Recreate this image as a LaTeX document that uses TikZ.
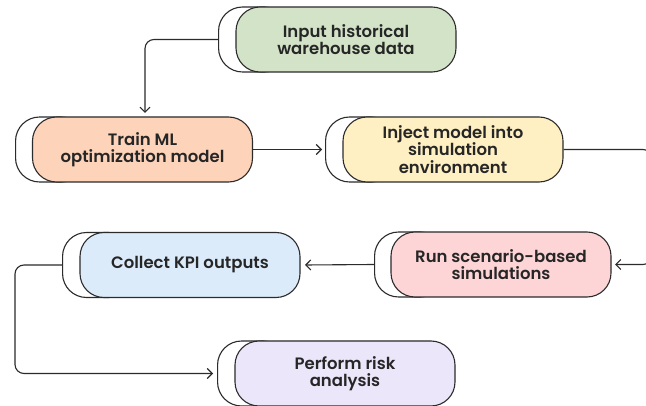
\documentclass[tikz,border=0pt]{standalone}
\usepackage{fontspec}
\setmainfont{Poppins}[UprightFont=* SemiBold]
\usetikzlibrary{arrows.meta}
\definecolor{cgreen}{HTML}{D2E3C8}
\definecolor{corange}{HTML}{FDD3BA}
\definecolor{cyellow}{HTML}{FEF0C3}
\definecolor{cpink}{HTML}{FDD5D6}
\definecolor{cblue}{HTML}{DCEBFA}
\definecolor{cviolet}{HTML}{ECE6FA}
\definecolor{cline}{HTML}{2B2B2B}
\definecolor{ctext}{HTML}{262626}
\tikzset{
  frontbox/.style={draw=cline, line width=1.1pt, rounded corners=24pt, minimum width=220pt, minimum height=65pt, align=center, font=\fontsize{16.5}{17.5}\selectfont, text=ctext, inner sep=0pt},
  backbox/.style={draw=cline, line width=1.1pt, fill=white, rounded corners=24pt, minimum width=70pt, minimum height=65pt, inner sep=0pt, anchor=west},
  conn/.style={draw=cline, line width=1.1pt, rounded corners=9pt},
  arr/.style={conn, -{Straight Barb[length=5pt,width=10pt,line width=1.1pt]}}
}
\begin{document}
\begin{tikzpicture}[x=1pt,y=-1pt]
\clip (0,0) rectangle (646,406);
\fill[white] (0,0) rectangle (646,406);
% back shapes
\node[backbox] (inb) at (218,39.5) {};
\node[backbox] (trb) at (15,149.5) {};
\node[backbox] (inj) at (325,149.5) {};
\node[backbox] (rub) at (374,264.5) {};
\node[backbox] (cob) at (62,265) {};
\node[backbox] (peb) at (217,373.5) {};
% front shapes
\node[frontbox, fill=cgreen] (input) at (346,39.5) {Input historical\\warehouse data};
\node[frontbox, fill=corange] (train) at (142.5,149.5) {Train ML\\optimization model};
\node[frontbox, fill=cyellow] (inject) at (453,149.5) {Inject model into\\simulation\\environment};
\node[frontbox, fill=cpink] (run) at (501,264.5) {Run scenario-based\\simulations};
\node[frontbox, fill=cblue] (collect) at (190,265) {Collect KPI outputs};
\node[frontbox, fill=cviolet] (perform) at (345,373.5) {Perform risk\\analysis};
% elbow and end points
\coordinate (k1) at (145,39.5);
\coordinate (t1) at (145,113);
\coordinate (t2) at (322,149.5);
\coordinate (k2) at (652,149.5);
\coordinate (k3) at (652,264.5);
\coordinate (t3) at (615,264.5);
\coordinate (t4) at (305,265);
\coordinate (k4) at (15,265);
\coordinate (k5) at (15,373.5);
\coordinate (t5) at (213,373.5);
% connectors
\draw[arr] (inb.west) -- (k1) -- (t1);
\draw[arr] (train.east) -- (t2);
\draw[arr] (inject.east) -- (k2) -- (k3) -- (t3);
\draw[arr] (rub.west) -- (t4);
\draw[arr] (cob.west) -- (k4) -- (k5) -- (t5);
\end{tikzpicture}
\end{document}
